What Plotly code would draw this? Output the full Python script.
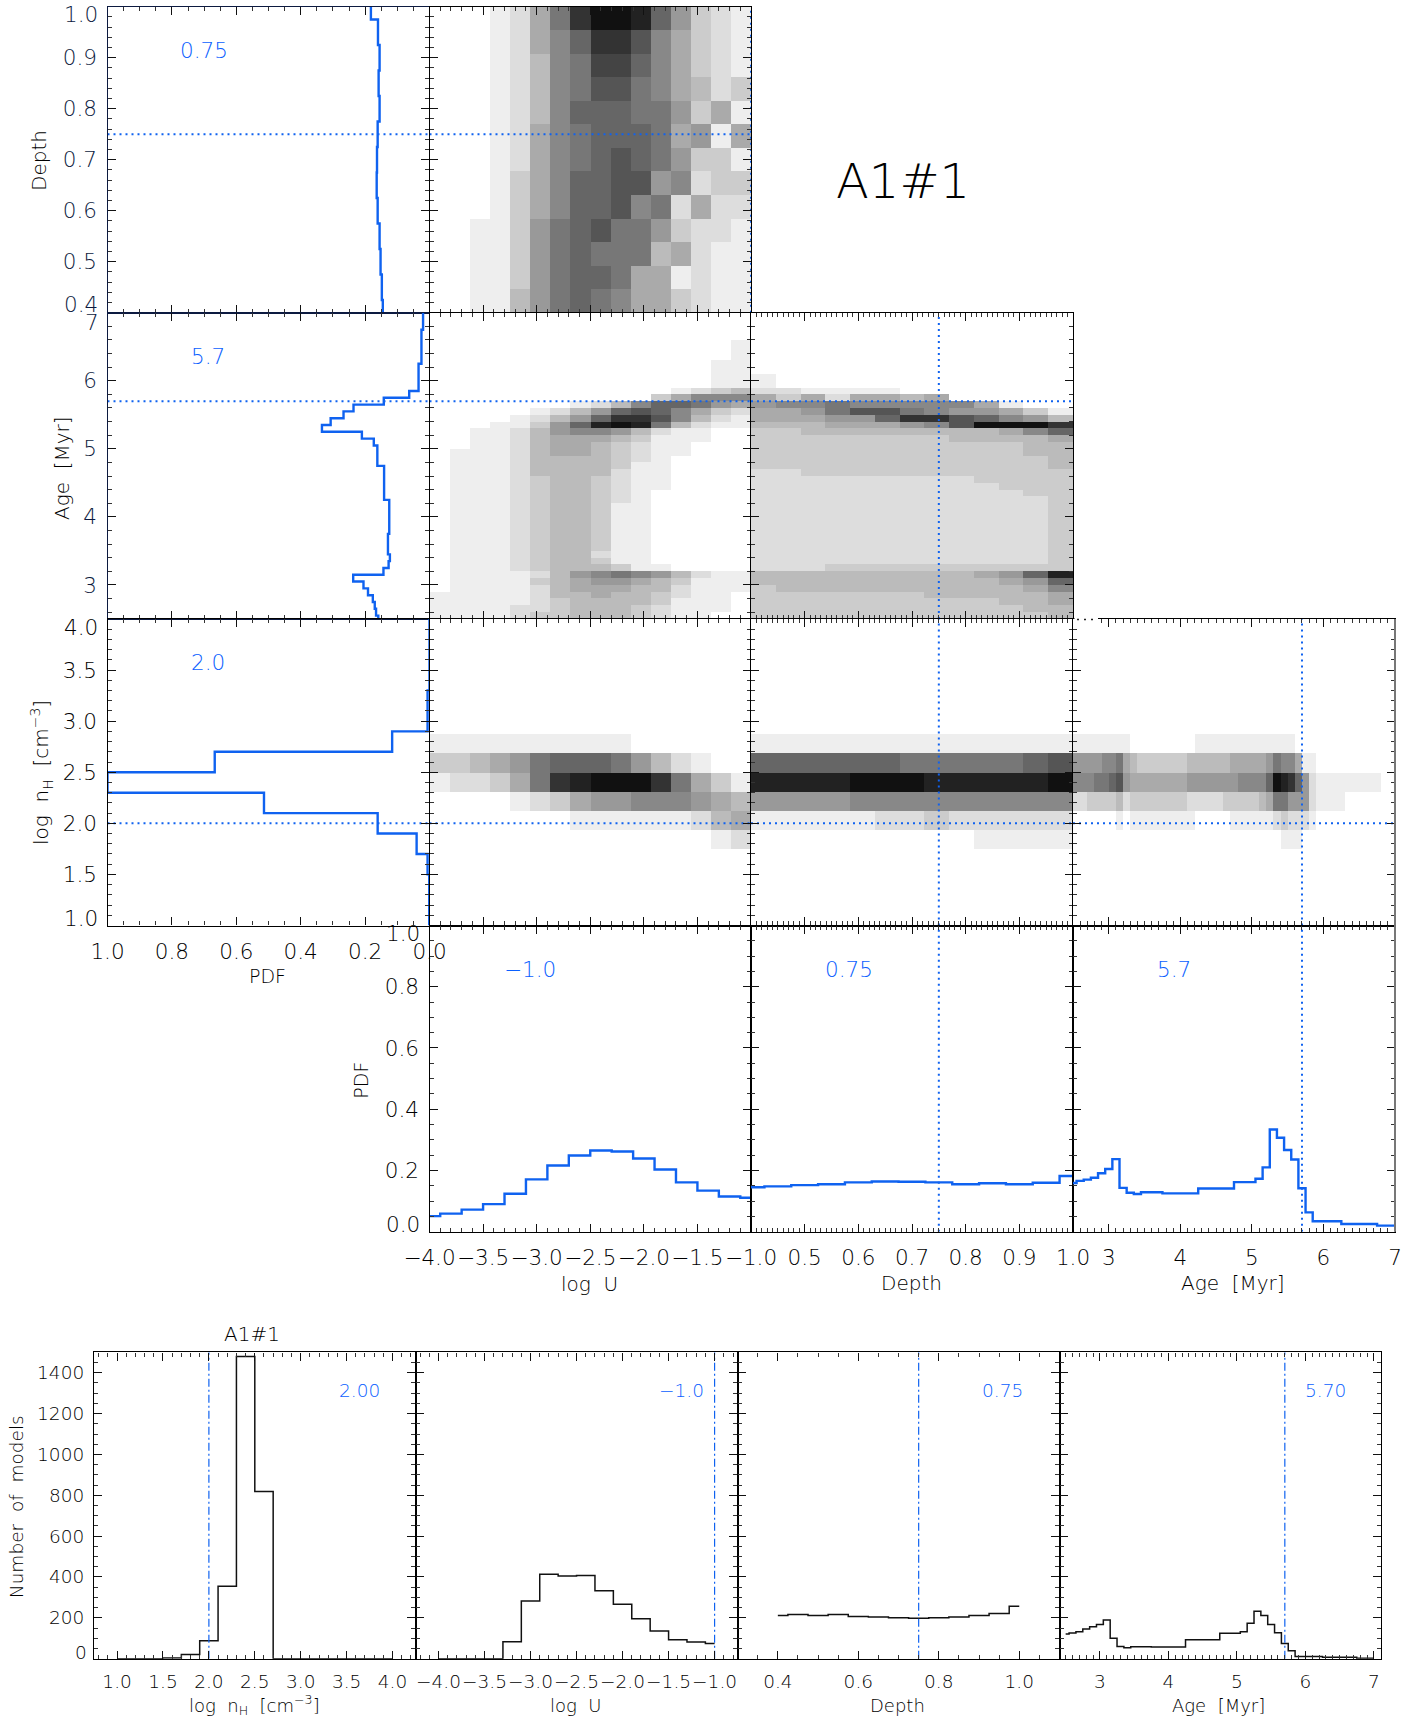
import numpy as np
import plotly.graph_objects as go

# ---------- 1D distributions (bin edges and values) ----------
nh_edges = [1.0, 1.5, 1.7, 1.9, 2.1, 2.3, 2.5, 2.7, 2.9, 3.3, 4.0]
nh_pdf = [0.001, 0.006, 0.04, 0.161, 0.514, 1.0, 0.667, 0.116, 0.006, 0.0]
logu_edges = [-4.0, -3.9, -3.7, -3.5, -3.3, -3.1, -2.9, -2.7, -2.5, -2.3, -2.1, -1.9, -1.7, -1.5, -1.3, -1.1, -1.0]
logu_pdf = [0.051, 0.059, 0.072, 0.090, 0.124, 0.171, 0.216, 0.249, 0.265, 0.262, 0.239, 0.203, 0.161, 0.134, 0.115, 0.111]
depth_edges = [0.4, 0.425, 0.475, 0.525, 0.575, 0.625, 0.675, 0.725, 0.775, 0.825, 0.875, 0.925, 0.975, 1.0]
depth_pdf = [0.145, 0.148, 0.152, 0.155, 0.161, 0.164, 0.163, 0.161, 0.155, 0.158, 0.155, 0.160, 0.182]
age_edges = [2.5, 2.55, 2.65, 2.75, 2.85, 2.95, 3.05, 3.15, 3.25, 3.35, 3.45, 3.75, 4.25, 4.75, 5.05, 5.15, 5.25,
             5.35, 5.45, 5.55, 5.65, 5.75, 5.85, 6.25, 6.75, 7.0]
age_pdf = [0.159, 0.166, 0.170, 0.176, 0.191, 0.205, 0.237, 0.143, 0.127, 0.123, 0.129, 0.125, 0.141, 0.162, 0.173,
           0.210, 0.334, 0.307, 0.267, 0.236, 0.142, 0.063, 0.034, 0.025, 0.020]

nh_count_edges = [1.0, 1.5, 1.7, 1.9, 2.1, 2.3, 2.5, 2.7, 4.0]
nh_counts = [0, 3, 20, 88, 355, 1480, 818, 0]
logu_count_edges = [-4.0, -3.3, -3.1, -2.9, -2.7, -2.5, -2.3, -2.1, -1.9, -1.7, -1.5, -1.3, -1.1, -1.0]
logu_counts = [0, 83, 283, 413, 405, 407, 333, 266, 196, 136, 93, 82, 75]
depth_counts = [211, 216, 211, 216, 207, 204, 201, 198, 201, 204, 211, 221, 257]
age_counts = [121, 126, 132, 145, 157, 168, 190, 100, 60, 54, 59, 57, 93, 124, 132, 173, 232, 211, 167, 127, 75, 39,
              11, 7, 2]

best_nh, best_logu, best_depth, best_age = 2.0, -1.0, 0.75, 5.7

# ---------- 2D histograms: darkness level per cell (hex digit, 0 white .. f black), top row first ----------
logu_depth = ["0001258ceed96321", "00012579cca75321", "00012478bb975321", "00012478aa875423",
              "0001247999886351", "0001257899985615", "000125789a986331", "000135799aa67233",
              "000135799a782522", "00113689a8863221", "0011368988845211", "0011368998551211",
              "0011468987553211"]
logu_age = ["0000000000000000"] * 4 + ["0000000000000001"] * 3 + ["0000000000000011"] * 4 + [
    "0000000000001234", "0000000000035777", "0000000124799865", "0000012469a97532",
    "000012469cca7421", "00011369ded84211", "0011246776421100", "0011245554311100",
    "0011245543211000", "0111245543211000", "0111244443210000", "0111244443110000",
    "0111244442110000", "0111234432110000", "0111234432110000", "0111234432100000",
    "0111234432100000"] + ["0111234431100000"] * 7 + [
    "0111234421100000", "0111234431100000", "0111234443110000", "0111124678764211",
    "0111134566543111", "0111124555442111", "1111124454432110", "1111123444431110",
    "1111223444321110", "1111233444321100"]
depth_age = ["0000000000000"] * 9 + ["1000000000000"] * 2 + [
    "2211110000000", "5352554500000", "6778777775100", "5568aa8766531",
    "555669cca9764", "44455567aeeec", "3344444444579",
    "3333333344445", "3333333333344", "3333333333344", "3333333333334", "3333333333334",
    "2233333333333", "2222222223333", "2222222222333", "2222222222233"] + ["2222222222223"] * 10 + [
    "2223333333333", "444444444569d", "4444444444569", "3444444444457",
    "3333333444445", "3333333333445", "3333333333344", "3333333333334"]
logu_nh = ["0000000000000000"] * 6 + [
    "1111111111000000", "3345689998642100", "122358cdeeec8531", "0000123566777654",
    "0000000111111245", "0000000000000012"] + ["0000000000000000"] * 4
depth_nh = ["0000000000000"] * 6 + [
    "1111111111111", "999999888889a", "ddddeeeddddde", "6666777777777",
    "1111122322222", "0000000001111"] + ["0000000000000"] * 4
age_nh = ["0" * 45] * 6 + [
    "11111111" + "0" * 9 + "1" * 14 + "0" * 14,
    "6666" + "77" + "8" + "5" + "4" + "3" * 7 + "4" * 6 + "5" * 5 + "6" + "8" + "77" + "5" + "11" + "0" * 11,
    "777" + "88" + "9" + "a" + "6" + "5" * 8 + "6" * 7 + "7" * 4 + "9" + "e" + "d" + "c" + "9" + "6" + "2" + "1" * 9 + "00",
    "22" + "3333" + "4" + "2" + "3" * 8 + "2" * 5 + "3" * 5 + "4" + "5" + "88" + "666" + "2" + "1111" + "0" * 7,
    "0" * 6 + "1" + "0" + "1" * 9 + "0" * 5 + "1" * 6 + "2" + "3" + "2" + "2" + "2" + "1" + "0" * 11,
    "0" * 29 + "111" + "0" * 13] + ["0" * 45] * 4

# ---------- tick labels ----------
nh_ticks = [1.0, 1.5, 2.0, 2.5, 3.0, 3.5, 4.0]
nh_labels = ["1.0", "1.5", "2.0", "2.5", "3.0", "3.5", "4.0"]
logu_ticks = [-4.0, -3.5, -3.0, -2.5, -2.0, -1.5, -1.0]
logu_labels = ["−4.0", "−3.5", "−3.0", "−2.5", "−2.0", "−1.5", "−1.0"]
depth_ticks = [0.4, 0.5, 0.6, 0.7, 0.8, 0.9, 1.0]
depth_labels = ["0.4", "0.5", "0.6", "0.7", "0.8", "0.9", "1.0"]
age_ticks = [3, 4, 5, 6, 7]
age_labels = ["3", "4", "5", "6", "7"]
pdf_ticks = [0.0, 0.2, 0.4, 0.6, 0.8, 1.0]
pdf_labels = ["0.0", "0.2", "0.4", "0.6", "0.8", "1.0"]
count_ticks = [0, 200, 400, 600, 800, 1000, 1200, 1400]
count_labels = ["0", "200", "400", "600", "800", "1000", "1200", "1400"]
depth_wide_ticks = [0.4, 0.6, 0.8, 1.0]
depth_wide_labels = ["0.4", "0.6", "0.8", "1.0"]

# ---------- layout ----------
W, H = 1420, 1721
COLS = [107.5, 429.5, 751.0, 1073.0, 1395.0]
ROWS = [6.7, 312.7, 619.0, 925.5, 1231.7]
B_COLS = [94.1, 415.5, 737.6, 1059.5, 1381.4]
B_ROW = [1352.3, 1658.7]
FONT = "DejaVu Sans"
BLUE = "#0f62f0"
TXT_BLUE = "#0a60ff"
INK = "#000000"
NAVY = "#0c1a40"
FS = 21.5
FS2 = 18.5

fig = go.Figure()
layout = {}
annots = []
axis_n = [0]


def txt(text, x, y, size=FS, color=INK, angle=0):
    annots.append(dict(text=text, x=x / W, y=1 - y / H, xref="paper", yref="paper", showarrow=False,
                       xanchor="center", yanchor="middle", textangle=angle,
                       font=dict(family=FONT, size=size, color=color, weight=200)))


def axis(dom, rng, ticks, minor, labels, anchor, side, fs, line=INK, tcolor=INK):
    if labels:
        pairs = [(t, l) for t, l in zip(ticks, labels) if l]
        vals, texts = [p[0] for p in pairs], [p[1] for p in pairs]
    else:
        vals, texts = ticks, None
    d = dict(domain=dom, range=rng, anchor=anchor, showgrid=False, zeroline=False, showline=True, mirror="ticks",
             linecolor=line, linewidth=1.4, ticks="inside", ticklen=8, tickwidth=1, tickcolor="#111111",
             tickmode="array", tickvals=vals, showticklabels=bool(labels), layer="above traces", tickangle=0,
             minor=dict(ticks="inside", ticklen=4, tickwidth=1, tickcolor="#333333", tickmode="linear",
                        tick0=minor[0], dtick=minor[1], showgrid=False),
             tickfont=dict(family=FONT, size=fs, color=tcolor, weight=200))
    if texts:
        d["ticktext"] = texts
    d["ticklabelstandoff"] = 5 if side == "y" else 6
    return d


def panel(x0, x1, y0, y1, xa, ya, xlabels=None, ylabels=None, fs=FS, line=INK, tcolor=INK):
    axis_n[0] += 1
    n = axis_n[0]
    layout[f"xaxis{n}"] = axis([x0 / W, x1 / W], xa["r"], xa["t"], xa["m"], xlabels, f"y{n}", "x", fs, line, tcolor)
    layout[f"yaxis{n}"] = axis([1 - y1 / H, 1 - y0 / H], ya["r"], ya["t"], ya["m"], ylabels, f"x{n}", "y", fs, line, tcolor)
    return f"x{n}", f"y{n}"


def heat(ax, rows, xr, yr):
    z = [[int(c, 16) for c in r] for r in rows][::-1]
    nx, ny = len(z[0]), len(z)
    assert all(len(r) == nx for r in z) and ny == len(rows)
    dx, dy = (xr[1] - xr[0]) / nx, (yr[1] - yr[0]) / ny
    fig.add_trace(go.Heatmap(z=z, x0=xr[0] + dx / 2, dx=dx, y0=yr[0] + dy / 2, dy=dy, zmin=0, zmax=15, showscale=False,
                             colorscale=[[0, "#ffffff"], [1, "#000000"]], xaxis=ax[0], yaxis=ax[1], hoverinfo="skip"))


def step_x(ax, edges, vals, color=BLUE, width=2.4):
    fig.add_trace(go.Scatter(x=edges, y=list(vals) + [vals[-1]], mode="lines", line=dict(shape="hv", color=color, width=width),
                             xaxis=ax[0], yaxis=ax[1], showlegend=False))


def step_y(ax, edges, vals):
    fig.add_trace(go.Scatter(x=list(vals) + [vals[-1]], y=edges, mode="lines", line=dict(shape="vh", color=BLUE, width=2.4),
                             xaxis=ax[0], yaxis=ax[1], showlegend=False))


def hline(ax, v, r, dash="2px,4px", w=2):
    fig.add_trace(go.Scatter(x=r, y=[v, v], mode="lines", line=dict(color=BLUE, width=w, dash=dash),
                             xaxis=ax[0], yaxis=ax[1], showlegend=False))


def vline(ax, v, r, dash="2px,4px", w=2):
    fig.add_trace(go.Scatter(x=[v, v], y=r, mode="lines", line=dict(color=BLUE, width=w, dash=dash),
                             xaxis=ax[0], yaxis=ax[1], showlegend=False))


X_PDF = dict(r=[1, 0], t=pdf_ticks, m=(0, 0.05))
X_U = dict(r=[-4, -1], t=logu_ticks, m=(-4, 0.1))
X_D = dict(r=[0.4, 1.0], t=depth_ticks, m=(0.4, 0.01))
X_A = dict(r=[2.5, 7], t=age_ticks, m=(2.5, 0.1))
Y_D = dict(r=[0.4, 1.0], t=depth_ticks, m=(0.4, 0.02))
Y_A = dict(r=[2.5, 7], t=age_ticks, m=(3, 0.2))
Y_N = dict(r=[1, 4], t=nh_ticks, m=(1, 0.1))
Y_P = dict(r=[0, 1], t=pdf_ticks, m=(0, 0.05))

blank_ends = lambda labels: [""] + labels[1:-1] + [""]

# Row 1: Depth
a = panel(COLS[0], COLS[1], ROWS[0], ROWS[1], X_PDF, Y_D, ylabels=blank_ends(depth_labels), line=NAVY, tcolor=NAVY)
step_y(a, depth_edges, depth_pdf)
hline(a, best_depth, [1, 0])
b = panel(COLS[1], COLS[2], ROWS[0], ROWS[1], X_U, Y_D)
heat(b, logu_depth, [-4, -1], [0.4, 1.0])
hline(b, best_depth, [-4, -1])
vline(b, best_logu, [0.4, 1.0])

# Row 2: Age
a = panel(COLS[0], COLS[1], ROWS[1], ROWS[2], X_PDF, Y_A, ylabels=[l if l != "7" else "" for l in age_labels], line=NAVY, tcolor=NAVY)
step_y(a, age_edges, age_pdf)
hline(a, best_age, [1, 0])
b = panel(COLS[1], COLS[2], ROWS[1], ROWS[2], X_U, Y_A)
heat(b, logu_age, [-4, -1], [2.5, 7])
hline(b, best_age, [-4, -1])
vline(b, best_logu, [2.5, 7])
c = panel(COLS[2], COLS[3], ROWS[1], ROWS[2], X_D, Y_A)
heat(c, depth_age, [0.4, 1.0], [2.5, 7])
hline(c, best_age, [0.4, 1.0])
vline(c, best_depth, [2.5, 7])

# Row 3: nH
a = panel(COLS[0], COLS[1], ROWS[2], ROWS[3], X_PDF, Y_N, xlabels=pdf_labels, ylabels=blank_ends(nh_labels))
step_y(a, nh_edges, nh_pdf)
hline(a, best_nh, [1, 0])
b = panel(COLS[1], COLS[2], ROWS[2], ROWS[3], X_U, Y_N)
heat(b, logu_nh, [-4, -1], [1, 4])
hline(b, best_nh, [-4, -1])
vline(b, best_logu, [1, 4])
c = panel(COLS[2], COLS[3], ROWS[2], ROWS[3], X_D, Y_N)
heat(c, depth_nh, [0.4, 1.0], [1, 4])
hline(c, best_nh, [0.4, 1.0])
vline(c, best_depth, [1, 4])
d = panel(COLS[3], COLS[4], ROWS[2], ROWS[3], X_A, Y_N)
heat(d, age_nh, [2.5, 7], [1, 4])
hline(d, best_nh, [2.5, 7])
vline(d, best_age, [1, 4])

# Row 4: PDFs
b = panel(COLS[1], COLS[2], ROWS[3], ROWS[4], X_U, Y_P, xlabels=logu_labels, ylabels=blank_ends(pdf_labels))
step_x(b, logu_edges, logu_pdf)
vline(b, best_logu, [0, 1])
c = panel(COLS[2], COLS[3], ROWS[3], ROWS[4], X_D, Y_P, xlabels=[""] + depth_labels[1:])
step_x(c, depth_edges, depth_pdf)
vline(c, best_depth, [0, 1])
d = panel(COLS[3], COLS[4], ROWS[3], ROWS[4], X_A, Y_P, xlabels=age_labels)
step_x(d, age_edges, age_pdf)
vline(d, best_age, [0, 1])

# Bottom row: model counts
Y_C = dict(r=[0, 1500], t=count_ticks, m=(0, 50))
p = panel(B_COLS[0], B_COLS[1], B_ROW[0], B_ROW[1], dict(r=[0.75, 4.25], t=nh_ticks, m=(0.8, 0.1)), Y_C,
          xlabels=nh_labels, ylabels=[""] + count_labels[1:], fs=FS2)
step_x(p, nh_count_edges, nh_counts, "#111111", 1.5)
vline(p, best_nh, [0, 1500], "8px,3px,2px,3px", 1.2)
p = panel(B_COLS[1], B_COLS[2], B_ROW[0], B_ROW[1], dict(r=[-4.25, -0.75], t=logu_ticks, m=(-4.2, 0.1)), Y_C,
          xlabels=logu_labels, fs=FS2)
step_x(p, logu_count_edges, logu_counts, "#111111", 1.5)
vline(p, best_logu, [0, 1500], "8px,3px,2px,3px", 1.2)
p = panel(B_COLS[2], B_COLS[3], B_ROW[0], B_ROW[1], dict(r=[0.3, 1.1], t=depth_wide_ticks, m=(0.3, 0.05)), Y_C,
          xlabels=depth_wide_labels, fs=FS2)
step_x(p, depth_edges, depth_counts, "#111111", 1.5)
vline(p, best_depth, [0, 1500], "8px,3px,2px,3px", 1.2)
p = panel(B_COLS[3], B_COLS[4], B_ROW[0], B_ROW[1], dict(r=[2.41, 7.11], t=age_ticks, m=(2.5, 0.1)), Y_C,
          xlabels=age_labels, fs=FS2)
step_x(p, age_edges, age_counts, "#111111", 1.5)
vline(p, best_age, [0, 1500], "8px,3px,2px,3px", 1.2)

# End labels of the y axes sit inside the tick position, as in the reference
txt("1.0", 81, 15, color=NAVY)
txt("0.4", 81, 304, color=NAVY)
txt("7", 92, 322, color=NAVY)
txt("4.0", 81, 627)
txt("1.0", 81, 918)
txt("1.0", 403, 933)
txt("0.0", 403, 1224)
txt("0", 81, 1652.7, size=FS2)

# Best-fit values
for s, x, y in [("0.75", 204, 50.7), ("5.7", 208.4, 356), ("2.0", 208.4, 662.7), ("−1.0", 529.7, 969),
                ("0.75", 848.6, 969), ("5.7", 1174, 969)]:
    txt(s, x, y, color=TXT_BLUE)
for s, x in [("2.00", 359.5), ("−1.0", 681), ("0.75", 1003), ("5.70", 1325)]:
    txt(s, x, 1390.3, size=FS2, color=TXT_BLUE)

# Axis titles and names
nh_title = "log  n<sub>H</sub>  [cm<sup>−3</sup>]"
txt("A1#1", 903, 181, size=48)
txt("A1#1", 252, 1334, size=20)
txt("Depth", 39, 161, size=20, angle=-90)
txt("Age  [Myr]", 62, 468, size=20, angle=-90)
txt(nh_title, 41, 773, size=20, angle=-90)
txt("PDF", 267, 975.6, size=19)
txt("PDF", 360.7, 1080, size=19, angle=-90)
txt("log  U", 589, 1284, size=20)
txt("Depth", 911.8, 1283, size=20)
txt("Age  [Myr]", 1232.5, 1283, size=20)
txt("Number  of  models", 16.5, 1506.7, size=18.5, angle=-90)
txt(nh_title, 254, 1705, size=18)
txt("log  U", 575.8, 1705, size=18)
txt("Depth", 897.4, 1705, size=18)
txt("Age  [Myr]", 1218.8, 1705, size=18)

# The top edge of the nH/Age panel starts as a short dotted stretch; its right edge is grey in the reference
shapes = [
    dict(type="rect", xref="paper", yref="paper", x0=1074.5 / W, x1=1098 / W, y0=1 - 627 / H, y1=1 - 617 / H,
         fillcolor="white", line_width=0, layer="above"),
    dict(type="line", xref="paper", yref="paper", x0=1077 / W, x1=1097 / W, y0=1 - 619.5 / H, y1=1 - 619.5 / H,
         line=dict(color="#222222", width=1.5, dash="2px,5px"), layer="above"),
    dict(type="line", xref="paper", yref="paper", x0=COLS[4] / W, x1=COLS[4] / W, y0=1 - ROWS[4] / H, y1=1 - ROWS[2] / H,
         line=dict(color="#777777", width=2), layer="above"),
]

fig.update_layout(width=W, height=H, margin=dict(l=0, r=0, t=0, b=0, autoexpand=False), paper_bgcolor="white", plot_bgcolor="white",
                  showlegend=False, annotations=annots, shapes=shapes, **layout)
fig.write_html("out.html", config={"displayModeBar": False},
               post_script="document.body.style.margin='0';document.body.style.overflow='hidden';")
